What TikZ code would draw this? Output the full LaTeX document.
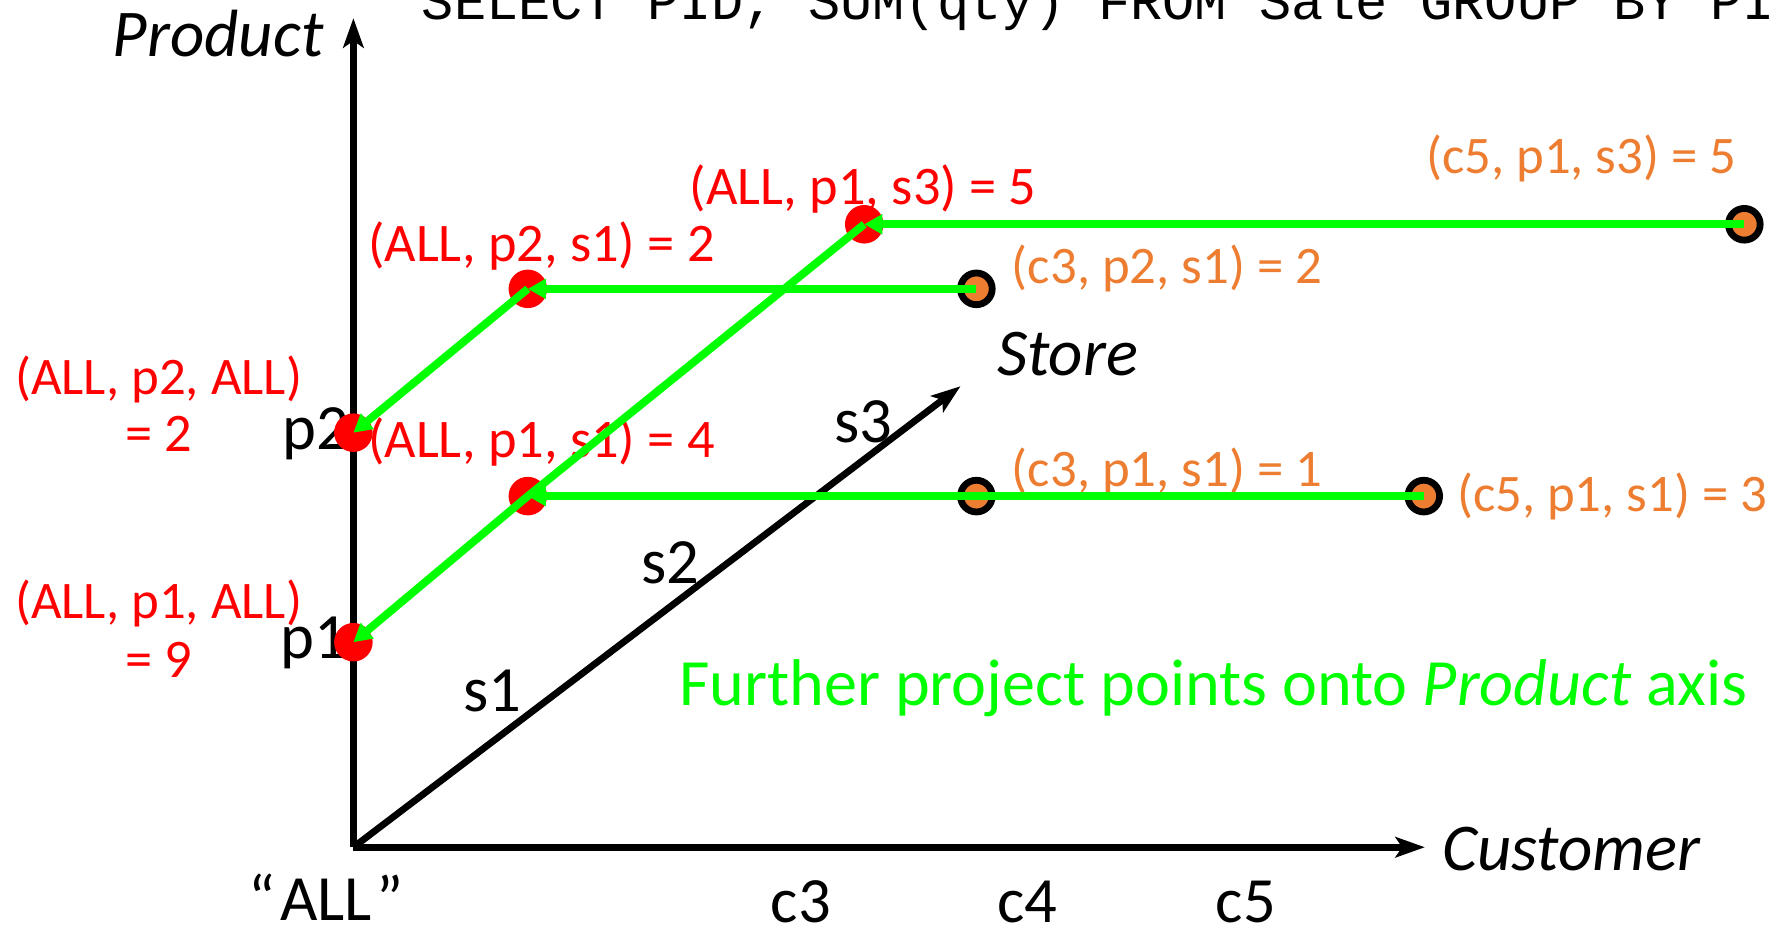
\documentclass[tikz,border=0pt]{standalone}
\usepackage{fontspec}
\setmainfont{Carlito}
\setmonofont{Liberation Mono}
\usetikzlibrary{arrows.meta}
\definecolor{cred}{HTML}{FF0000}
\definecolor{corange}{HTML}{ED7D31}
\definecolor{cgreen}{HTML}{00FF00}
\begin{document}
\begin{tikzpicture}[x=0.5pt,y=-0.5pt,
  axis/.style={line width=3pt,-{Stealth[length=13pt,width=9pt,inset=3pt]}},
  axlab/.style={font=\fontsize{29.5}{33}\selectfont\itshape,inner sep=0pt},
  ticklab/.style={font=\fontsize{28.5}{32}\selectfont,inner sep=0pt},
  redlab/.style={font=\fontsize{24}{28}\selectfont,text=cred,inner sep=0pt},
  orglab/.style={font=\fontsize{23.3}{28}\selectfont,text=corange,inner sep=0pt},
  reddot/.style={circle,fill=cred,minimum size=17pt,inner sep=0pt},
  orgdot/.style={circle,fill=corange,draw=black,line width=3pt,minimum size=14pt,inner sep=0pt},
  gline/.style={draw=cgreen,line width=3.5pt},
  garrow/.style={gline,-{Triangle[length=8pt,width=8.5pt]}}]
\useasboundingbox (0,0) rectangle (1568,820);
\clip (0,0) rectangle (1568,820);
% SQL title (clipped at top)
\node[font=\fontsize{23.7}{26}\selectfont\ttfamily,anchor=base west,inner sep=0pt] (sql) at (372,17) {SELECT PID, SUM(qty) FROM Sale GROUP BY PID};
% axes
\coordinate (O) at (312,748);
\coordinate (ytip) at (312,16);
\coordinate (xtip) at (1258,748);
\coordinate (ztip) at (848,341);
\draw[axis] (O) -- (ytip);
\draw[axis] (O) -- (xtip);
\draw[axis] (O) -- (ztip);
% axis labels
\node[axlab,anchor=east] (lprod) at (286,30) {Product};
\node[axlab,anchor=west] (lcust) at (1273,750) {Customer};
\node[axlab,anchor=west] (lstore) at (880,313) {Store};
\node[ticklab] (lall) at (288,792) {“\kern2pt ALL\kern2pt”};
\node[ticklab] (lc3) at (707,796) {c3};
\node[ticklab] (lc4) at (907,796) {c4};
\node[ticklab] (lc5) at (1100,796) {c5};
\node[ticklab] (ls1) at (435,610) {s1};
\node[ticklab] (ls2) at (592,497) {s2};
\node[ticklab] (ls3) at (762,372) {s3};
\node[ticklab] (lp1) at (277,568) {p1};
\node[ticklab] (lp2) at (279,383) {p2};
% red labels
\node[redlab] (t1) at (478,217) {(ALL, p2, s1) = 2};
\node[redlab] (t2) at (762,167) {(ALL, p1, s3) = 5};
\node[redlab] (t3) at (478,390) {(ALL, p1, s1) = 4};
\node[redlab,font=\fontsize{23.3}{28}\selectfont] (t4) at (140,335) {(ALL, p2, ALL)};
\node[redlab] (t4b) at (140,383) {= 2};
\node[redlab,font=\fontsize{23.3}{28}\selectfont] (t5) at (140,533) {(ALL, p1, ALL)};
\node[redlab] (t5b) at (140,583) {= 9};
% orange labels
\node[orglab,anchor=west] (u1) at (893,237) {(c3, p2, s1) = 2};
\node[orglab] (u2) at (1396,140) {(c5, p1, s3) = 5};
\node[orglab,anchor=west] (u3) at (893,416) {(c3, p1, s1) = 1};
\node[orglab,anchor=west] (u4) at (1286,438) {(c5, p1, s1) = 3};
% green caption
\node[font=\fontsize{29.2}{33}\selectfont,text=cgreen,inner sep=0pt] (cap) at (1071,608) {Further project points onto \textit{Product} axis};
% dots
\node[reddot] (dp2) at (312,382) {};
\node[reddot] (dp1) at (312,567) {};
\node[reddot] (r1) at (466,438) {};
\node[reddot] (r2) at (466,255) {};
\node[reddot] (r3) at (763,198) {};
\node[orgdot] (o1) at (862,255) {};
\node[orgdot] (o2) at (862,438) {};
\node[orgdot] (o3) at (1257,438) {};
\node[orgdot] (o4) at (1540,198) {};
% green projections
\draw[garrow] (o4.center) -- (r3.center);
\draw[garrow] (o1.center) -- (r2.center);
\draw[garrow] (o3.center) -- (o2.center) -- (r1.center);
\draw[garrow] (r3.center) -- (r1.center) -- (dp1.center);
\draw[garrow] (r2.center) -- (dp2.center);
\end{tikzpicture}
\end{document}
